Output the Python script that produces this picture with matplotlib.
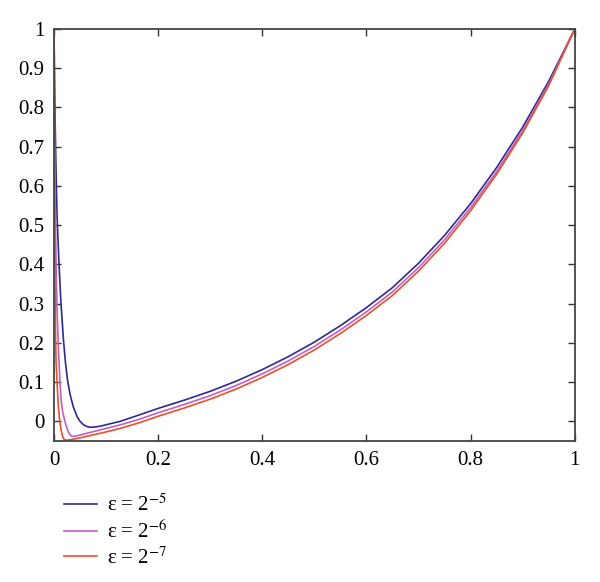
import numpy as np
import matplotlib
matplotlib.use('Agg')
import matplotlib.pyplot as plt
from matplotlib.ticker import FormatStrFormatter

plt.rcParams['font.family'] = ['Liberation Serif', 'DejaVu Serif']
plt.rcParams['mathtext.fontset'] = 'stix'

# curve values (x, u(x)) for each epsilon
x_eps5 = [0, 0.002, 0.004, 0.006, 0.009, 0.013, 0.018, 0.022, 0.026, 0.031, 0.037,
          0.044, 0.05, 0.057, 0.063, 0.069, 0.078, 0.09, 0.105, 0.127, 0.165,
          0.2, 0.25, 0.3, 0.35, 0.4, 0.45, 0.5, 0.55, 0.6, 0.65, 0.7, 0.75,
          0.8, 0.85, 0.9, 0.95, 1.0]
u_eps5 = [1.0, 0.78, 0.63, 0.52, 0.42, 0.31, 0.21, 0.15, 0.105, 0.068, 0.037,
          0.013, 0.0, -0.009, -0.013, -0.015, -0.0145, -0.012, -0.007, 0.0, 0.017,
          0.033, 0.054, 0.0766, 0.1025, 0.132, 0.165, 0.202, 0.244, 0.290, 0.341, 0.403, 0.474,
          0.555, 0.647, 0.750, 0.867, 1.0]

x_eps6 = [0, 0.001, 0.002, 0.004, 0.006, 0.008, 0.0115, 0.014, 0.017, 0.021, 0.026,
          0.03, 0.034, 0.04, 0.05, 0.07, 0.1, 0.127, 0.165,
          0.2, 0.25, 0.3, 0.35, 0.4, 0.45, 0.5, 0.55, 0.6, 0.65, 0.7, 0.75,
          0.8, 0.85, 0.9, 0.95, 1.0]
u_eps6 = [1.0, 0.75, 0.58, 0.4, 0.28, 0.2, 0.098, 0.05, 0.022, 0.0, -0.022,
          -0.033, -0.038, -0.038, -0.035, -0.028, -0.018, -0.009, 0.006,
          0.022, 0.043, 0.0656, 0.0915, 0.121, 0.154, 0.191, 0.233, 0.279, 0.330, 0.392, 0.463,
          0.545, 0.637, 0.741, 0.860, 1.0]

x_eps7 = [0, 0.0005, 0.001, 0.002, 0.003, 0.004, 0.006, 0.008, 0.011, 0.014, 0.017,
          0.02, 0.025, 0.035, 0.05, 0.07, 0.1, 0.127, 0.165,
          0.2, 0.25, 0.3, 0.35, 0.4, 0.45, 0.5, 0.55, 0.6, 0.65, 0.7, 0.75,
          0.8, 0.85, 0.9, 0.95, 1.0]
u_eps7 = [1.0, 0.75, 0.56, 0.35, 0.22, 0.15, 0.095, 0.045, 0.0, -0.025, -0.04,
          -0.047, -0.048, -0.046, -0.042, -0.036, -0.027, -0.018, -0.003,
          0.013, 0.034, 0.0566, 0.0825, 0.112, 0.145, 0.182, 0.224, 0.270, 0.321, 0.383, 0.454,
          0.537, 0.630, 0.735, 0.856, 1.0]

labels = ['ε = 2$^{-5}$', 'ε = 2$^{-6}$', 'ε = 2$^{-7}$']
colors = ['#2e2a90', '#c25fc2', '#e8512a']

fig = plt.figure(figsize=(6, 5.82), dpi=100)
ax = fig.add_axes([0.09, 0.2423, 0.868, 0.7079])

ax.plot(x_eps5, u_eps5, color=colors[0], lw=1.2, label=labels[0])
ax.plot(x_eps6, u_eps6, color=colors[1], lw=1.2, label=labels[1])
ax.plot(x_eps7, u_eps7, color=colors[2], lw=1.2, label=labels[2])

ax.set_xlim(0, 1)
ax.set_ylim(-0.05, 1)
ax.set_xticks(np.arange(0, 1.01, 0.2))
ax.set_yticks(np.arange(0, 1.01, 0.1))
ax.xaxis.set_major_formatter(FormatStrFormatter('%g'))
ax.yaxis.set_major_formatter(FormatStrFormatter('%g'))
ax.tick_params(direction='in', top=True, right=True, length=5, width=1,
               labelsize=15, color='#333333', pad=7)
for s in ax.spines.values():
    s.set_color('#444444')
    s.set_linewidth(1.3)

ax.legend(loc='upper left', bbox_to_anchor=(0.003, -0.11), frameon=False,
          fontsize=15, handlelength=1.6, handletextpad=0.45, labelspacing=0.2,
          borderaxespad=0)

fig.savefig('out.png', dpi=100)
